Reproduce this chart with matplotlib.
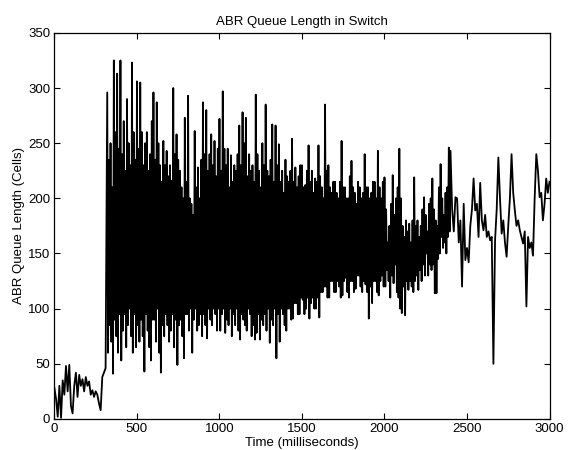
import numpy as np
import matplotlib
matplotlib.use("Agg")
import matplotlib.pyplot as plt

# queue length (cells)
# start-up: one sample every 10 ms, 0..310 ms
pre_jump = [28, 18, 2, 30, 1, 35, 22, 48, 25, 49,
            12, 5, 30, 42, 20, 40, 30, 36, 25, 38,
            30, 34, 22, 26, 20, 25, 22, 14, 8, 38,
            42, 46]

# oscillating part: one sample every 5 ms, 320..2395 ms
dense = [296, 60, 235, 85, 250, 70, 210, 41, 325, 90, 260, 75, 313, 60, 245, 95,
         325, 53, 240, 80, 270, 95, 225, 65, 290, 85, 250, 100, 230, 75, 323, 60, 260, 95, 235, 65,
         306, 85, 245, 70, 305, 90, 260, 75, 230, 43, 250, 95, 260, 80, 225, 65, 240, 53, 270, 90,
         296, 90, 235, 70, 287, 100, 250, 60, 230, 42, 215, 85, 252, 75, 230, 95, 243, 85, 220, 70,
         230, 80, 216, 95, 300, 65, 240, 90, 258, 49, 235, 85, 225, 90, 210, 75, 200, 55, 273, 95,
         215, 95, 293, 80, 200, 100, 195, 60, 185, 90, 261, 100, 210, 80, 228, 85, 200, 95, 235, 75,
         287, 95, 240, 85, 280, 73, 225, 100, 240, 90, 258, 85, 230, 100, 252, 95, 220, 80, 245, 100,
         272, 80, 225, 95, 297, 100, 245, 78, 230, 90, 245, 85, 210, 100, 239, 75, 215, 95, 230, 85,
         225, 100, 240, 80, 266, 72, 230, 95, 278, 90, 250, 85, 273, 80, 220, 100, 240, 95, 225, 75,
         230, 85, 215, 72, 294, 78, 240, 95, 225, 72, 210, 90, 250, 85, 230, 95, 285, 80, 225, 100,
         220, 69, 235, 90, 267, 85, 215, 100, 266, 55, 230, 95, 249, 70, 215, 100, 225, 95, 205, 85,
         235, 80, 220, 100, 215, 100, 225, 90, 254, 91, 215, 105, 228, 105, 210, 95, 220, 95, 230, 110,
         230, 108, 210, 95, 212, 100, 225, 110, 248, 91, 215, 105, 225, 110, 205, 100, 218, 100, 215, 110,
         248, 92, 220, 115, 210, 115, 200, 120, 285, 120, 225, 110, 230, 110, 210, 125, 205, 125, 215, 115,
         215, 115, 205, 125, 200, 120, 215, 110, 252, 112, 210, 125, 210, 128, 200, 115, 200, 110, 220, 125,
         234, 125, 210, 115, 205, 118, 195, 130, 215, 130, 210, 120, 200, 115, 205, 125, 240, 122, 210, 115,
         210, 91, 200, 120, 205, 105, 215, 125, 215, 125, 200, 115, 243, 112, 210, 125, 200, 130, 215, 120,
         219, 120, 190, 135, 160, 125, 175, 110, 195, 130, 221, 123, 185, 140, 200, 115, 210, 110, 245, 100,
         200, 96, 175, 120, 165, 94, 180, 125, 170, 117, 177, 125, 160, 120, 180, 115, 219, 125, 175, 130,
         180, 117, 165, 135, 175, 125, 190, 140, 201, 130, 185, 150, 170, 130, 195, 140, 200, 135, 218, 140,
         190, 114, 180, 114, 175, 145, 210, 150, 231, 165, 200, 155, 185, 160, 205, 150, 210, 165, 246, 170]

# settling part: one sample every 10 ms, 2400..3000 ms
tail = [243, 190, 170, 201, 200, 160, 180, 120, 195, 144,
        155, 142, 175, 190, 218, 189, 195, 165, 214, 180,
        171, 185, 165, 170, 162, 165, 50, 162, 190, 237,
        200, 168, 180, 160, 147, 175, 200, 240, 205, 189,
        175, 180, 171, 165, 159, 170, 102, 165, 155, 160,
        148, 200, 240, 225, 201, 205, 180, 195, 218, 205,
        215]

t_pre = 10 * np.arange(len(pre_jump))
t_dense = 320 + 5 * np.arange(len(dense))
t_tail = 2400 + 10 * np.arange(len(tail))

time_ms = np.concatenate([t_pre, t_dense, t_tail])
queue = np.array(pre_jump + dense + tail)

x_ticks = [0, 500, 1000, 1500, 2000, 2500, 3000]
y_ticks = [0, 50, 100, 150, 200, 250, 300, 350]

plt.rcParams['font.family'] = ['Liberation Sans', 'DejaVu Sans']

fig = plt.figure(figsize=(5.73, 4.5), dpi=100)
ax = fig.add_axes([0.095, 0.069, 0.864, 0.858])

ax.plot(time_ms, queue, color='black', linewidth=1.3)

ax.set_xlim(0, 3000)
ax.set_ylim(0, 350)
ax.set_xticks(x_ticks)
ax.set_yticks(y_ticks)
ax.tick_params(direction='in', length=4, width=0.8, labelsize=9.5,
               top=True, right=True, pad=3)
for s in ax.spines.values():
    s.set_linewidth(0.9)

ax.set_title("ABR Queue Length in Switch", fontsize=9.5, pad=6)
ax.set_xlabel("Time (milliseconds)", fontsize=9.5, labelpad=1)
ax.set_ylabel("ABR Queue Length (Cells)", fontsize=9.5, labelpad=2)

fig.savefig("out.png", dpi=100)
